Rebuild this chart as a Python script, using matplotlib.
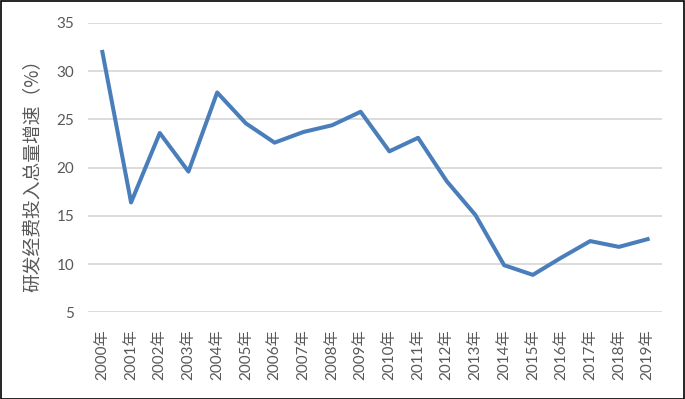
import matplotlib
matplotlib.use("Agg")
import matplotlib.pyplot as plt
from matplotlib.patches import Rectangle

plt.rcParams['font.family'] = ['Lato', 'Noto Sans CJK SC', 'DejaVu Sans']

years = ["2000年", "2001年", "2002年", "2003年", "2004年", "2005年", "2006年", "2007年",
         "2008年", "2009年", "2010年", "2011年", "2012年", "2013年", "2014年", "2015年",
         "2016年", "2017年", "2018年", "2019年"]
growth = [32.0, 16.4, 23.6, 19.6, 27.8, 24.6, 22.6, 23.7, 24.4, 25.8,
          21.7, 23.1, 18.6, 15.1, 9.9, 8.9, 10.7, 12.4, 11.8, 12.6]
yticks = [5, 10, 15, 20, 25, 30, 35]
ylabel = "研发经费投入总量增速（%）"

text_color = "#595959"
fig = plt.figure(figsize=(6.85, 3.99), dpi=100)
ax = fig.add_axes([0.1285, 0.2168, 0.9664 - 0.1285, 0.9424 - 0.2168])

x = list(range(len(years)))
ax.plot(x, growth, color="#4a7ebb", linewidth=2.9, solid_joinstyle="round")
ax.set_xlim(-0.5, len(years) - 0.5)
ax.set_ylim(5, 35)
ax.set_yticks(yticks)
ax.set_xticks(x)
ax.set_xticklabels(years, rotation=90, fontsize=11, color=text_color)
ax.tick_params(axis='y', labelsize=11, labelcolor=text_color, length=0, pad=10)
ax.tick_params(axis='x', length=0, pad=12)
ax.grid(axis='y', color="#d9d9d9", linewidth=1.3)
ax.set_axisbelow(True)
for s in ax.spines.values():
    s.set_visible(False)
ax.set_ylabel(ylabel, fontsize=13.5, color=text_color,
              family=['Noto Sans CJK SC', 'DejaVu Sans'])
ax.yaxis.set_label_coords(-0.078, 0.49)

fig.patches.append(Rectangle((0.001, 0.001), 0.997, 0.996, transform=fig.transFigure,
                             fill=False, edgecolor="black", linewidth=1.2))
fig.savefig("out.png", dpi=100)
